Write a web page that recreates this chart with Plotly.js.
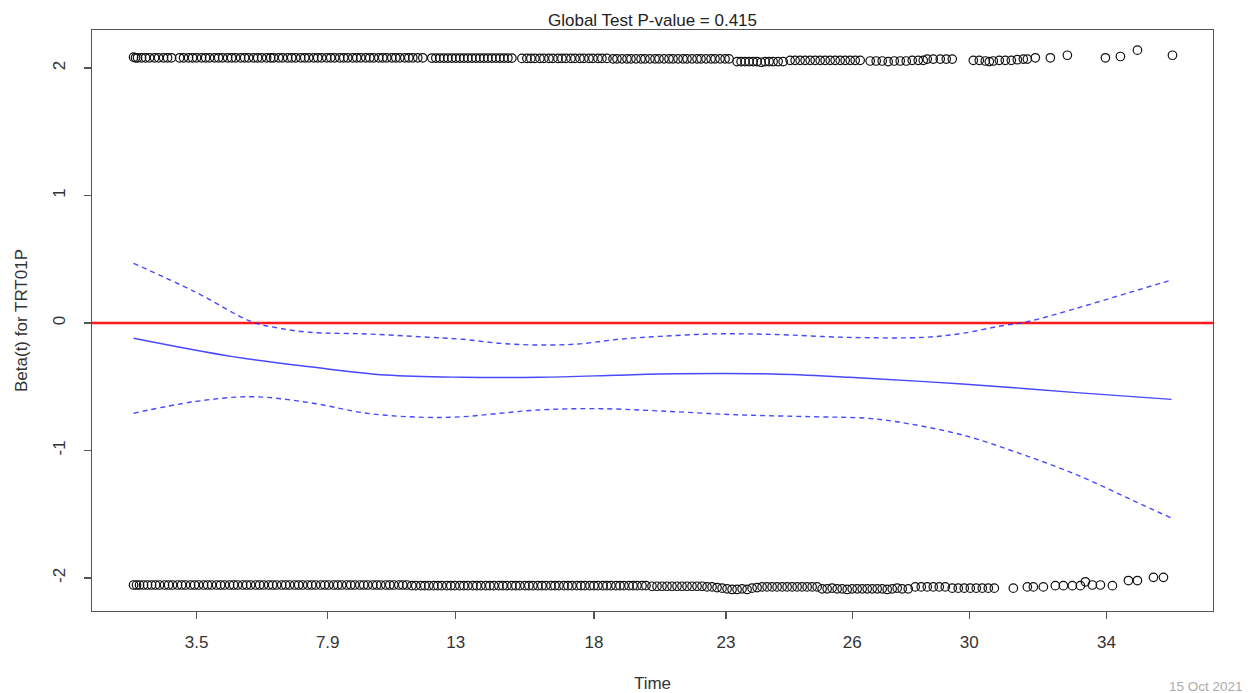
<!DOCTYPE html>
<html><head><meta charset="utf-8">
<script src="https://cdn.plot.ly/plotly-3.0.1.min.js"></script>
<style>html,body{margin:0;padding:0;background:#fff;}#chart{width:1253px;height:693px;}</style>
</head><body><div id="chart"></div>
<script>
// x = transformed event time (rank scale); tick labels give actual time
const xTickVals = [63, 194, 322, 460, 592, 718, 835, 972];
const xTickText = ['3.5', '7.9', '13', '18', '23', '26', '30', '34'];
const yTickVals = [-2, -1, 0, 1, 2];
const yTickText = ['-2', '-1', '0', '1', '2'];

// smoothed beta(t) and its confidence band
const betaX = [0, 99, 176, 252, 329, 405, 482, 526, 639, 715, 791, 866, 942, 1037];
const betaY = [-0.12, -0.264, -0.343, -0.408, -0.426, -0.426, -0.41, -0.40, -0.40, -0.426, -0.46, -0.50, -0.546, -0.599];
const upperX = [0, 61, 118, 145, 176, 233, 290, 329, 367, 405, 444, 482, 526, 583, 639, 715, 791, 828, 866, 893, 942, 998, 1037];
const upperY = [0.468, 0.246, 0.01, -0.04, -0.073, -0.086, -0.11, -0.128, -0.16, -0.173, -0.165, -0.13, -0.105, -0.085, -0.09, -0.113, -0.112, -0.081, -0.024, 0.01, 0.115, 0.246, 0.337];
const lowerX = [0, 61, 118, 176, 233, 290, 329, 367, 405, 463, 526, 602, 677, 734, 772, 828, 885, 942, 998, 1037];
const lowerY = [-0.708, -0.617, -0.578, -0.625, -0.708, -0.74, -0.735, -0.708, -0.682, -0.672, -0.69, -0.72, -0.735, -0.748, -0.787, -0.878, -1.022, -1.19, -1.39, -1.53];

// scaled Schoenfeld residuals, upper band
const topX = [
  0, 2, 4, 8, 12, 16, 21, 25, 30, 34, 38,
  46, 50, 55, 59, 63, 68, 72, 76, 81, 85, 89, 94, 98, 102, 107, 111, 115, 120, 124, 128, 133, 137, 140,
  145, 149, 154, 158, 162, 167, 171, 175, 180, 184, 188, 193, 197, 201, 206, 210, 214, 219, 223, 227, 232, 236, 240, 245, 249, 253, 258, 262, 266, 271, 275, 279, 284, 289,
  298, 302, 306, 310, 314, 318, 322, 326, 330, 334, 338, 342, 346, 350, 354, 358, 362, 366, 370, 374, 378,
  388, 393, 397, 401, 406, 410, 415, 419, 424, 428, 432, 437, 441, 446, 450, 455, 459, 464, 468, 473,
  479, 483, 488, 493, 497, 502, 507, 511, 516, 521, 525, 530, 535, 539, 544, 549, 553, 558, 563, 567, 572, 577, 581, 586, 591, 595,
  603, 607, 611, 615, 619, 623, 627, 631, 635, 639, 644, 649,
  656, 661, 666, 671, 676, 681, 686, 691, 696, 701, 706, 711, 716, 721, 726,
  736, 742, 748, 754, 760, 766, 772, 778, 784, 789,
  793, 799, 806, 812, 818,
  839, 845, 851, 855, 859, 865, 871, 877, 883, 889, 893,
  901, 916, 933, 971, 986, 1003, 1038
];
const topY = [
  2.085, 2.08, 2.08, 2.08, 2.08, 2.08, 2.08, 2.08, 2.08, 2.08, 2.08,
  2.08, 2.08, 2.08, 2.08, 2.08, 2.08, 2.08, 2.08, 2.08, 2.08, 2.08, 2.08, 2.08, 2.08, 2.08, 2.08, 2.08, 2.08, 2.08, 2.08, 2.08, 2.08, 2.08,
  2.08, 2.08, 2.08, 2.08, 2.08, 2.08, 2.08, 2.08, 2.08, 2.08, 2.08, 2.08, 2.08, 2.08, 2.08, 2.08, 2.08, 2.08, 2.08, 2.08, 2.08, 2.08, 2.08, 2.08, 2.08, 2.08, 2.08, 2.08, 2.08, 2.08, 2.08, 2.08, 2.08, 2.08,
  2.078, 2.078, 2.078, 2.078, 2.078, 2.078, 2.078, 2.078, 2.078, 2.078, 2.078, 2.078, 2.078, 2.078, 2.078, 2.078, 2.078, 2.078, 2.078, 2.078, 2.078,
  2.075, 2.075, 2.075, 2.075, 2.075, 2.075, 2.075, 2.075, 2.075, 2.075, 2.075, 2.075, 2.075, 2.075, 2.075, 2.075, 2.075, 2.075, 2.075, 2.075,
  2.072, 2.072, 2.072, 2.072, 2.072, 2.072, 2.072, 2.072, 2.072, 2.072, 2.072, 2.072, 2.072, 2.072, 2.072, 2.072, 2.072, 2.072, 2.072, 2.072, 2.072, 2.072, 2.072, 2.072, 2.072, 2.072,
  2.05, 2.05, 2.05, 2.05, 2.05, 2.05, 2.045, 2.05, 2.05, 2.05, 2.05, 2.05,
  2.06, 2.06, 2.06, 2.06, 2.06, 2.06, 2.06, 2.06, 2.06, 2.06, 2.06, 2.06, 2.06, 2.06, 2.06,
  2.055, 2.055, 2.055, 2.05, 2.055, 2.055, 2.055, 2.06, 2.06, 2.06,
  2.07, 2.07, 2.07, 2.07, 2.07,
  2.06, 2.06, 2.055, 2.05, 2.055, 2.06, 2.06, 2.06, 2.065, 2.07, 2.07,
  2.08, 2.08, 2.10, 2.08, 2.09, 2.14, 2.10
];

// scaled Schoenfeld residuals, lower band
const botX = [
  0, 3, 6, 10, 14, 18, 22, 26, 31, 35, 39, 44, 48, 52, 57, 61, 65, 70, 74, 78,
  83, 87, 91, 96, 100, 104, 109, 113, 117, 122, 126, 130, 135, 139, 143, 148, 152, 156, 161, 165,
  169, 174, 178, 182, 187, 191, 195, 200, 204, 208, 213, 217, 221, 226, 230, 234, 239, 243, 247, 252,
  256, 260, 265, 269, 273,
  278, 282, 287, 291, 295, 300, 304, 308, 313, 317, 321, 326, 330, 334, 339, 343, 347, 352, 356, 360,
  365, 369, 373, 378, 382, 386, 391, 395, 399, 404, 408, 412, 417, 421, 425, 430, 434, 438, 443, 447,
  451, 456, 460, 464, 469, 473, 477, 482, 486, 490, 495, 499, 503, 508, 512,
  518, 523, 528, 533, 538, 543, 548, 553, 558, 563, 568,
  573, 578, 583, 588, 593, 598, 603, 608, 613, 618, 623, 628, 633,
  638, 643, 648, 653, 658, 663, 668, 673, 678, 683,
  688, 693, 698, 703, 708, 713, 718, 723, 728, 733, 738, 743, 748, 753, 758, 763, 768, 774,
  781, 787, 793, 799, 805, 811,
  818, 824, 830, 836, 842, 848, 854, 860,
  879, 893, 899, 909, 921, 929, 938, 946, 951, 958, 966, 978, 994, 1003, 1019, 1029
];
const botY = [
  -2.055, -2.055, -2.055, -2.055, -2.055, -2.055, -2.055, -2.055, -2.055, -2.055, -2.055, -2.055, -2.055, -2.055, -2.055, -2.055, -2.055, -2.055, -2.055, -2.055,
  -2.055, -2.055, -2.055, -2.055, -2.055, -2.055, -2.055, -2.055, -2.055, -2.055, -2.055, -2.055, -2.055, -2.055, -2.055, -2.055, -2.055, -2.055, -2.055, -2.055,
  -2.055, -2.055, -2.055, -2.055, -2.055, -2.055, -2.055, -2.055, -2.055, -2.055, -2.055, -2.055, -2.055, -2.055, -2.055, -2.055, -2.055, -2.055, -2.055, -2.055,
  -2.055, -2.055, -2.055, -2.055, -2.055,
  -2.06, -2.06, -2.06, -2.06, -2.06, -2.06, -2.06, -2.06, -2.06, -2.06, -2.06, -2.06, -2.06, -2.06, -2.06, -2.06, -2.06, -2.06, -2.06, -2.06,
  -2.06, -2.06, -2.06, -2.06, -2.06, -2.06, -2.06, -2.06, -2.06, -2.06, -2.06, -2.06, -2.06, -2.06, -2.06, -2.06, -2.06, -2.06, -2.06, -2.06,
  -2.06, -2.06, -2.06, -2.06, -2.06, -2.06, -2.06, -2.06, -2.06, -2.06, -2.06, -2.06, -2.06, -2.06, -2.06,
  -2.065, -2.065, -2.065, -2.065, -2.065, -2.065, -2.065, -2.065, -2.065, -2.065, -2.065,
  -2.07, -2.07, -2.075, -2.08, -2.085, -2.09, -2.09, -2.085, -2.09, -2.08, -2.075, -2.07, -2.07,
  -2.07, -2.07, -2.07, -2.07, -2.07, -2.07, -2.07, -2.07, -2.07, -2.07,
  -2.085, -2.085, -2.08, -2.085, -2.085, -2.09, -2.085, -2.085, -2.085, -2.085, -2.085, -2.085, -2.085, -2.09, -2.085, -2.08, -2.085, -2.085,
  -2.07, -2.07, -2.07, -2.07, -2.07, -2.07,
  -2.08, -2.08, -2.08, -2.08, -2.08, -2.08, -2.08, -2.08,
  -2.08, -2.07, -2.07, -2.07, -2.06, -2.06, -2.06, -2.06, -2.03, -2.055, -2.055, -2.06, -2.02, -2.02, -1.995, -1.995
];

const FONT = 'Liberation Sans, Arial, Helvetica, sans-serif';
const circle = {symbol: 'circle-open', size: 8.5, color: '#111', line: {width: 1.2, color: '#111'}};
const blue = 'rgba(40,40,255,0.85)';

const traces = [
  {x: topX, y: topY, type: 'scatter', mode: 'markers', marker: circle, showlegend: false},
  {x: botX, y: botY, type: 'scatter', mode: 'markers', marker: circle, showlegend: false},
  {x: betaX, y: betaY, type: 'scatter', mode: 'lines', line: {color: blue, width: 1.4, shape: 'spline', smoothing: 1}, showlegend: false},
  {x: upperX, y: upperY, type: 'scatter', mode: 'lines', line: {color: blue, width: 1.4, dash: '5px,4px', shape: 'spline', smoothing: 1}, showlegend: false},
  {x: lowerX, y: lowerY, type: 'scatter', mode: 'lines', line: {color: blue, width: 1.4, dash: '5px,4px', shape: 'spline', smoothing: 1}, showlegend: false}
];

const axisCommon = {
  showgrid: false, zeroline: false, showline: true, mirror: true,
  linecolor: '#555', linewidth: 1.3, ticks: 'outside', ticklen: 7, tickwidth: 1.2, tickcolor: '#555',
  tickfont: {family: FONT, size: 17, color: '#333'}, automargin: false
};

const layout = {
  width: 1253, height: 693,
  margin: {l: 92, r: 40, t: 30, b: 82},
  paper_bgcolor: '#fff', plot_bgcolor: '#fff',
  font: {family: FONT, color: '#333'},
  title: {text: 'Global Test P-value = 0.415', x: 0.5, xref: 'paper', xanchor: 'center',
          y: 1 - 20 / 693, yref: 'container', yanchor: 'middle', font: {family: FONT, size: 17, color: '#222'}},
  xaxis: Object.assign({}, axisCommon, {
    range: [-41.5, 1078.5], tickmode: 'array', tickvals: xTickVals, ticktext: xTickText,
    ticklabelstandoff: 8,
    title: {text: 'Time', font: {family: FONT, size: 17, color: '#333'}, standoff: 29}
  }),
  yaxis: Object.assign({}, axisCommon, {
    range: [-2.259, 2.298], tickmode: 'array', tickvals: yTickVals, ticktext: yTickText,
    tickangle: -90, ticklabelstandoff: 12,
    title: {text: 'Beta(t) for TRT01P', font: {family: FONT, size: 17, color: '#333'}, standoff: 18}
  }),
  shapes: [
    {type: 'line', xref: 'paper', x0: 0, x1: 1, yref: 'y', y0: 0, y1: 0, layer: 'below',
     line: {color: '#ff1a1a', width: 2.5}}
  ],
  annotations: [
    {text: '15 Oct 2021', xref: 'paper', yref: 'paper', x: (1245 - 92) / 1121, y: (611 - 686) / 581,
     xanchor: 'right', yanchor: 'middle', showarrow: false, font: {family: FONT, size: 13.5, color: '#aaa'}}
  ],
  showlegend: false
};

Plotly.newPlot('chart', traces, layout, {displayModeBar: false, staticPlot: true});
</script>
</body></html>
